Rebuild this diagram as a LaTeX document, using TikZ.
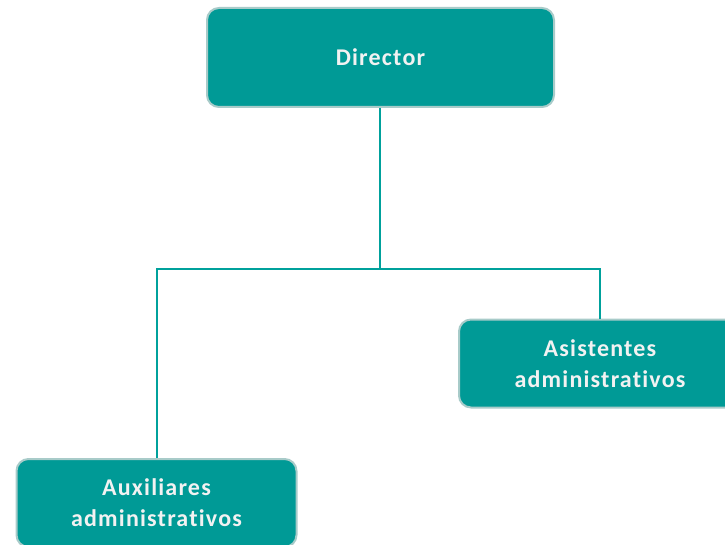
\documentclass[tikz,border=0pt]{standalone}
\usepackage{fontspec}
\setmainfont{Carlito}[LetterSpace=5,Ligatures={NoCommon}]
\definecolor{boxteal}{HTML}{009A96}
\definecolor{boxedge}{HTML}{A8CBC9}
\definecolor{linkteal}{HTML}{00A19C}
\definecolor{txt}{HTML}{F2F2F2}
\begin{document}
\begin{tikzpicture}[x=1pt,y=-1pt,
  orgbox/.style={draw=boxedge, line width=2pt, fill=boxteal, rounded corners=12pt,
    text=txt, font=\fontsize{24}{31}\selectfont\bfseries, align=center,
    inner sep=0pt},
  link/.style={draw=linkteal, line width=2pt}]
\useasboundingbox (0,0) rectangle (725,545);
\node[orgbox, minimum width=347pt, minimum height=99pt] (dir) at (380.5,57.5) {Director};
\node[orgbox, minimum width=282pt, minimum height=88pt] (asi) at (600,363.5) {Asistentes\\administrativos};
\node[orgbox, minimum width=280pt, minimum height=88pt] (aux) at (156.5,503) {Auxiliares\\administrativos};
\coordinate (j) at (380,269);
\draw[link] (dir.south -| j) -- (j);
\draw[link] (aux.north) |- (j) -| (asi.north);
\end{tikzpicture}
\end{document}
